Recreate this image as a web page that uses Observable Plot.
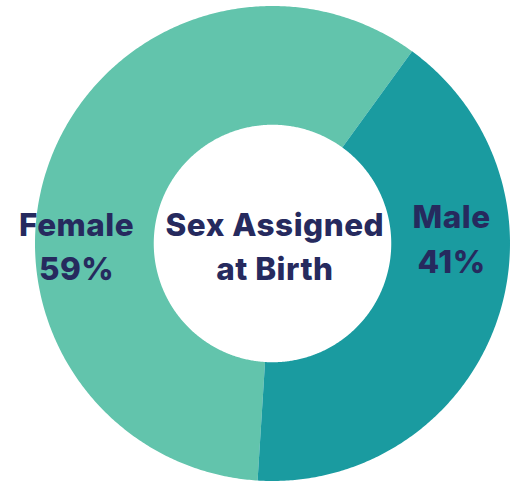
<!DOCTYPE html>
<html>
<head>
<meta charset="utf-8">
<script src="https://cdn.jsdelivr.net/npm/d3@7"></script>
<script src="https://cdn.jsdelivr.net/npm/@observablehq/plot@0.6"></script>
<style>
  html, body { margin: 0; padding: 0; background: #fff; }
</style>
</head>
<body>
<div id="chart"></div>
<script>
const categories = ["Female", "Male"];
const values = [59, 41];
const colors = ["#62c4ac", "#1a9ba0"];
const centerTitle = "Sex Assigned\nat Birth";

const innerRatio = 0.5;
const pie = d3.pie().sort(null).value(d => d.value)
  .startAngle(183.6 * Math.PI / 180)
  .endAngle((183.6 + 360) * Math.PI / 180);
const slices = pie(categories.map((c, i) => ({category: c, value: values[i]})));

// Build annular-sector polygons in data space (unit circle)
const polys = [];
for (const s of slices) {
  const n = Math.max(8, Math.ceil((s.endAngle - s.startAngle) / (Math.PI / 360)));
  const outer = d3.range(n + 1).map(k => s.startAngle + (s.endAngle - s.startAngle) * k / n);
  for (const a of outer) polys.push({category: s.data.category, x: Math.sin(a), y: Math.cos(a)});
  for (const a of outer.slice().reverse()) polys.push({category: s.data.category, x: innerRatio * Math.sin(a), y: innerRatio * Math.cos(a)});
}

const labels = [
  {text: `${categories[0]}\n${values[0]}%`, x: -0.825, y: 0.0},
  {text: `${categories[1]}\n${values[1]}%`, x: 0.754, y: 0.03}
];

const font = "Inter, 'DejaVu Sans', sans-serif";
const chart = Plot.plot({
  width: 517,
  height: 481,
  marginLeft: 34.5,
  marginRight: 7.5,
  marginTop: 5.5,
  marginBottom: 0.5,
  x: {domain: [-1, 1], axis: null},
  y: {domain: [-1, 1], axis: null},
  color: {domain: categories, range: colors},
  style: {fontFamily: font, background: "#fff", letterSpacing: "0.5px"},
  marks: [
    Plot.line(polys, {x: "x", y: "y", z: "category", fill: "category", stroke: "none", curve: "linear"}),
    Plot.text(labels, {x: "x", y: "y", text: "text", fill: "#262a5e", fontSize: 31.5, fontWeight: 800, lineHeight: 1.4, textAnchor: "middle", lineAnchor: "middle"}),
    Plot.text([centerTitle], {x: [0.01], y: [0.0], text: d => d, fill: "#262a5e", fontSize: 31.5, fontWeight: 800, lineHeight: 1.4, textAnchor: "middle", lineAnchor: "middle"})
  ]
});
document.getElementById("chart").appendChild(chart);
</script>
</body>
</html>
